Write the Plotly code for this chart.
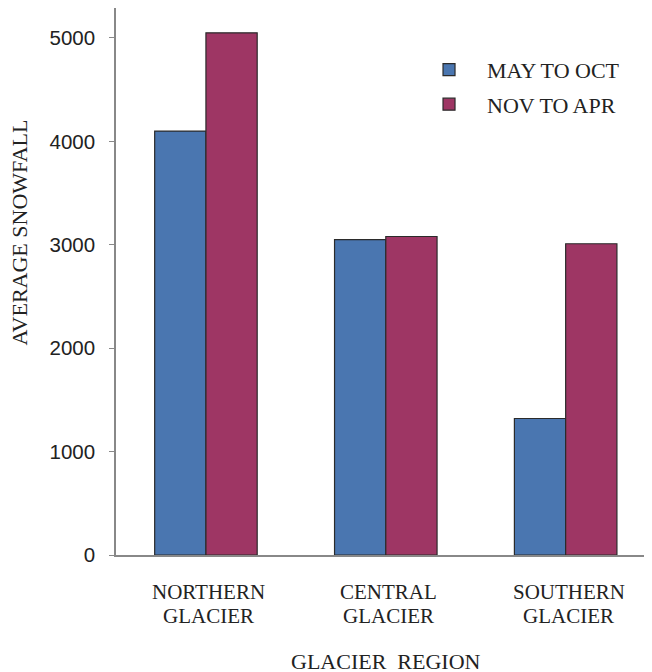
import plotly.graph_objects as go

regions = ["NORTHERN GLACIER", "CENTRAL GLACIER", "SOUTHERN GLACIER"]
may_to_oct = [4100, 3050, 1320]
nov_to_apr = [5050, 3080, 3010]
y_ticks = [0, 1000, 2000, 3000, 4000, 5000]

serif = "Liberation Serif, Times New Roman, serif"
sans = "Liberation Sans, Arial, sans-serif"

fig = go.Figure()
fig.add_trace(go.Bar(
    x=regions, y=may_to_oct, name="MAY TO OCT", legendgroup="a",
    marker=dict(color="#4a76b0", line=dict(color="#2b2b2b", width=1.2)),
))
fig.add_trace(go.Bar(
    x=regions, y=nov_to_apr, name="NOV TO APR", legendgroup="b",
    marker=dict(color="#9e3664", line=dict(color="#2b2b2b", width=1.2)),
))

# category labels as two tight lines (plotly's own line height is too loose)
cat_labels = []
for r in regions:
    first, second = r.split(" ")
    for txt, yy in ((first, -0.0676), (second, -0.1115)):
        cat_labels.append(dict(
            text=txt, x=r, xref="x", y=yy, yref="paper", xshift=3,
            xanchor="center", yanchor="middle", showarrow=False,
            font=dict(family=serif, size=21, color="#222"),
        ))

# page has an 8px body margin, so margins are offset accordingly
fig.update_layout(
    width=652, height=672,
    margin=dict(l=108, r=8, t=0, b=125),
    paper_bgcolor="white", plot_bgcolor="white",
    barmode="group", bargap=0.43, bargroupgap=0,
    showlegend=True,
    legend=dict(
        x=0.5504, y=0.9255, xanchor="left", yanchor="top",
        font=dict(family=serif, size=22, color="#222"),
        traceorder="grouped", tracegroupgap=3, itemwidth=66,
        bgcolor="rgba(0,0,0,0)",
    ),
    annotations=cat_labels + [
        dict(text="AVERAGE SNOWFALL", textangle=-90, xref="paper", yref="paper",
             x=-0.1797, y=0.589, xanchor="center", yanchor="middle", showarrow=False,
             font=dict(family=serif, size=22, color="#222")),
        dict(text="GLACIER \u00a0REGION", xref="paper", yref="paper",
             x=0.504, y=-0.194, xanchor="center", yanchor="middle", showarrow=False,
             font=dict(family=serif, size=22, color="#222")),
    ],
)
fig.update_xaxes(
    type="category", range=[-0.5, 2.48],
    showline=True, linecolor="#888", linewidth=1.5,
    ticks="", showgrid=False, showticklabels=False,
)
fig.update_yaxes(
    range=[0, 5290], tickvals=y_ticks,
    showline=True, linecolor="#888", linewidth=1.5,
    ticks="outside", ticklen=5, tickcolor="#888",
    showgrid=False, zeroline=False, ticklabelstandoff=10,
    tickfont=dict(family=sans, size=20.5, color="#222"),
)

fig.write_html("out.html")
